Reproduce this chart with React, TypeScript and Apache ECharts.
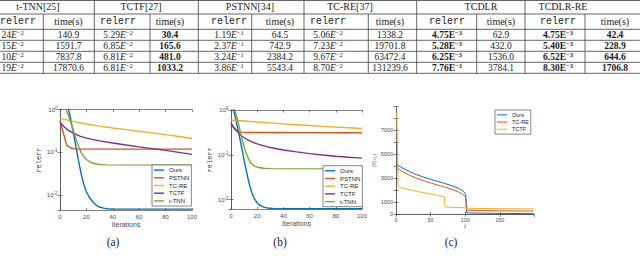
import React, { useEffect, useRef } from "react";
import * as echarts from "echarts";

// ---------------- Table data ----------------
const methodHeaders = ["t-TNN[25]", "TCTF[27]", "PSTNN[34]", "TC-RE[37]", "TCDLR", "TCDLR-RE"];
const subHeaderRelerr = "relerr";
const subHeaderTime = "time(s)";
const tTnnRelerr = ["24E-2", "15E-2", "10E-2", "19E-2"]; // left part cropped in the source
const tTnnTime = ["140.9", "1591.7", "7837.8", "17870.6"];
const tctfRelerr = ["5.29E-2", "6.85E-2", "6.81E-2", "6.81E-2"];
const tctfTime = ["30.4", "165.6", "481.0", "1033.2"];
const pstnnRelerr = ["1.19E-1", "2.37E-1", "3.24E-1", "3.86E-1"];
const pstnnTime = ["64.5", "742.9", "2384.2", "5543.4"];
const tcreRelerr = ["5.06E-2", "7.23E-2", "9.67E-2", "8.70E-2"];
const tcreTime = ["1338.2", "19701.8", "63472.4", "131239.6"];
const tcdlrRelerr = ["4.75E-3", "5.28E-3", "6.25E-3", "7.76E-3"];
const tcdlrTime = ["62.9", "432.0", "1536.0", "3784.1"];
const tcdlrReRelerr = ["4.75E-3", "5.40E-3", "6.52E-3", "8.30E-3"];
const tcdlrReTime = ["42.4", "228.9", "644.6", "1706.8"];

// ---------------- Chart (a) data: [iteration, relerr] ----------------
const aOurs = [[0, 1.6], [5, 1.3], [6.5, 1.0], [8, 0.62], [10, 0.3], [12, 0.14], [14, 0.065], [16, 0.032], [18, 0.018], [20, 0.012], [22, 0.0092], [24, 0.0075], [26, 0.0064], [28, 0.0057], [30, 0.0053], [33, 0.005], [36, 0.00485], [40, 0.00478], [50, 0.00475], [100, 0.00475]];
const aPSTNN = [[0, 0.55], [5, 0.15], [6, 0.14], [8, 0.128], [10, 0.122], [12, 0.12], [100, 0.119]];
const aTCRE = [[0, 0.62], [10, 0.53], [20, 0.46], [30, 0.41], [40, 0.37], [50, 0.34], [60, 0.31], [70, 0.285], [80, 0.26], [90, 0.235], [100, 0.21]];
const aTCTF = [[0, 0.5], [3, 0.4], [6, 0.33], [10, 0.28], [15, 0.24], [20, 0.215], [30, 0.185], [40, 0.165], [50, 0.148], [60, 0.134], [70, 0.122], [80, 0.111], [90, 0.1], [100, 0.09]];
const aTTNN = [[0, 1.6], [3, 1.2], [4.5, 1.0], [6, 0.78], [8, 0.52], [10, 0.33], [12, 0.21], [14, 0.14], [16, 0.1], [18, 0.08], [20, 0.068], [23, 0.059], [26, 0.055], [30, 0.052], [35, 0.051], [100, 0.0505]];

// ---------------- Chart (b) data ----------------
const bOurs = [[0, 1.5], [1, 1.2], [2, 1.0], [4, 0.55], [6, 0.3], [8, 0.15], [10, 0.075], [12, 0.04], [14, 0.022], [16, 0.014], [18, 0.0102], [20, 0.0085], [22, 0.0075], [25, 0.0068], [28, 0.0065], [32, 0.0063], [40, 0.00626], [100, 0.00625]];
const bPSTNN = [[0, 0.5], [2, 0.4], [4, 0.35], [6, 0.33], [8, 0.32], [12, 0.315], [100, 0.31]];
const bTCRE = [[0, 0.6], [10, 0.57], [20, 0.54], [30, 0.515], [40, 0.49], [50, 0.47], [60, 0.45], [70, 0.43], [80, 0.415], [90, 0.4], [100, 0.385]];
const bTCTF = [[0, 0.5], [3, 0.38], [6, 0.3], [10, 0.24], [15, 0.2], [20, 0.175], [30, 0.145], [40, 0.128], [50, 0.116], [60, 0.106], [70, 0.099], [80, 0.093], [90, 0.088], [100, 0.084]];
const bTTNN = [[0, 1.5], [2, 1.2], [3, 1.0], [5, 0.6], [7, 0.34], [9, 0.19], [11, 0.12], [13, 0.085], [15, 0.066], [18, 0.056], [21, 0.052], [25, 0.05], [30, 0.049], [100, 0.0485]];

// ---------------- Chart (c) data: [i, |S|] ----------------
const cOurs = [[1, 4250], [3, 4100], [10, 3850], [20, 3550], [30, 3300], [40, 3100], [50, 2920], [60, 2750], [70, 2580], [80, 2400], [90, 2180], [95, 2020], [98, 1880], [100, 1750], [101, 1500], [102, 120], [120, 95], [150, 75], [199, 55]];
const cTCRE = [[1, 3950], [3, 3800], [10, 3550], [20, 3250], [30, 3000], [40, 2800], [50, 2620], [60, 2450], [70, 2280], [80, 2100], [90, 1880], [95, 1730], [98, 1600], [100, 1480], [101, 1250], [102, 340], [120, 310], [150, 290], [199, 270]];
const cTCTF = [[1, 8500], [2, 6000], [3, 2400], [5, 2250], [20, 2050], [40, 1800], [60, 1580], [69, 1480], [70, 1420], [71, 620], [80, 580], [100, 540], [101, 500], [150, 470], [199, 450]];

const legendAB = ["Ours", "PSTNN", "TC-RE", "TCTF", "t-TNN"];
const legendC = ["Ours", "TC-RE", "TCTF"];
const iterTicks = { min: 0, max: 100, interval: 20 };
const cXRange = { min: 0, max: 199.5, interval: 50 };
const cYRange = { min: 0, max: 9000, interval: 1000 };
const cYTickLabels = [0, 1000, 3000, 5000, 7000];
const cXName = "i";
const captions = ["(a)", "(b)", "(c)"];

// ---------------- styling ----------------
const C = { blue: "#0072BD", orange: "#D95319", yellow: "#EDB120", purple: "#7E2F8E", green: "#77AC30" };
const SANS = '"Liberation Sans", Arial, sans-serif';
const SERIF = '"Liberation Serif", "Times New Roman", serif';
const MONO = '"Liberation Mono", "DejaVu Sans Mono", monospace';
const AX = "#4d4d4d";
const TXT = "#1a1a1a";

function buildTable(): any[] {
  const els: any[] = [];
  const cols = [
    { rel: tTnnRelerr, time: tTnnTime, relBold: false, timeBold: false, relX: 11, timeX: 68.5, headX: 38, cropped: true },
    { rel: tctfRelerr, time: tctfTime, relBold: false, timeBold: true, relX: 118, timeX: 170, headX: 141 },
    { rel: pstnnRelerr, time: pstnnTime, relBold: false, timeBold: false, relX: 229, timeX: 280, headX: 250 },
    { rel: tcreRelerr, time: tcreTime, relBold: false, timeBold: false, relX: 328, timeX: 390, headX: 350 },
    { rel: tcdlrRelerr, time: tcdlrTime, relBold: true, timeBold: false, relX: 447, timeX: 501, headX: 481 },
    { rel: tcdlrReRelerr, time: tcdlrReTime, relBold: true, timeBold: true, relX: 558, timeX: 615, headX: 563 },
  ];
  const hLines = [0.5, 14, 29.3, 40.3, 51.3, 62.3, 73.3];
  const groupV = [94.3, 198.3, 304, 416.7, 525];
  const innerV = [43.3, 150, 251.7, 368.3, 476.7, 585];
  const rowY = [35, 46, 57, 68];
  hLines.forEach((y) =>
    els.push({ type: "line", silent: true, shape: { x1: 0, y1: y, x2: 640, y2: y }, style: { stroke: "#555", lineWidth: 0.9 } })
  );
  groupV.forEach((x) =>
    els.push({ type: "line", silent: true, shape: { x1: x, y1: 0, x2: x, y2: 73.3 }, style: { stroke: "#555", lineWidth: 0.9 } })
  );
  innerV.forEach((x) =>
    els.push({ type: "line", silent: true, shape: { x1: x, y1: 14, x2: x, y2: 73.3 }, style: { stroke: "#555", lineWidth: 0.9 } })
  );
  const rich = {
    m: { fontFamily: SERIF, fontSize: 9.5, lineHeight: 13, fill: TXT },
    e: { fontFamily: SERIF, fontSize: 9.5, fontStyle: "italic", lineHeight: 13, fill: TXT },
    s: { fontFamily: SERIF, fontSize: 6.5, verticalAlign: "top", fill: TXT },
    bm: { fontFamily: SERIF, fontSize: 9.5, fontWeight: "bold", lineHeight: 13, fill: TXT },
    bs: { fontFamily: SERIF, fontSize: 6.5, fontWeight: "bold", verticalAlign: "top", fill: TXT },
  };
  const relText = (s: string, bold: boolean) => {
    const [m, e] = s.split("E");
    const ex = e.replace("-", "\u2212");
    return bold ? `{bm|${m}E}{bs|${ex}}` : `{m|${m}}{e|E}{s|${ex}}`;
  };
  cols.forEach((c: any, ci) => {
    els.push({
      type: "text", silent: true, x: c.headX, y: 6,
      style: { text: methodHeaders[ci], font: `10px ${SERIF}`, fill: TXT, textAlign: "center", textVerticalAlign: "middle" },
    });
    els.push({
      type: "text", silent: true, x: c.cropped ? 0 : c.relX, y: 21.7,
      style: { text: subHeaderRelerr, font: `10px ${MONO}`, fill: TXT, textAlign: c.cropped ? "left" : "center", textVerticalAlign: "middle" },
    });
    els.push({
      type: "text", silent: true, x: c.timeX, y: 21.7,
      style: { text: subHeaderTime, font: `10px ${SERIF}`, fill: TXT, textAlign: "center", textVerticalAlign: "middle" },
    });
    rowY.forEach((y, ri) => {
      els.push({
        type: "text", silent: true, x: c.cropped ? 1.5 : c.relX, y,
        style: { text: relText(c.rel[ri], c.relBold), rich, textAlign: c.cropped ? "left" : "center", textVerticalAlign: "middle" },
      });
      els.push({
        type: "text", silent: true, x: c.timeX, y,
        style: {
          text: c.time[ri], font: `${c.timeBold ? "bold " : ""}9.5px ${SERIF}`, fill: TXT,
          textAlign: "center", textVerticalAlign: "middle",
        },
      });
    });
  });
  const capX = [113, 280, 451];
  captions.forEach((t, i) =>
    els.push({
      type: "text", silent: true, x: capX[i], y: 242,
      style: { text: t, font: `11.5px ${SERIF}`, fill: TXT, textAlign: "center", textVerticalAlign: "middle" },
    })
  );
  els.push({
    type: "text", silent: true, x: 465, y: 226,
    style: { text: cXName, font: `italic 7px ${SERIF}`, fill: AX, textAlign: "center", textVerticalAlign: "middle" },
  });
  return els;
}

const axLine = { lineStyle: { color: AX, width: 0.7 } };
const axTick = { inside: true, length: 2.5, lineStyle: { color: AX, width: 0.7 } };

function iterX(grid: number, top: boolean): any {
  return {
    gridIndex: grid, type: "value", position: top ? "top" : "bottom", ...iterTicks,
    axisLine: axLine, axisTick: axTick, splitLine: { show: false },
    axisLabel: top ? { show: false } : { fontSize: 6, color: AX, fontFamily: SANS, margin: 3 },
    name: top ? "" : "Iterations", nameLocation: "middle", nameGap: 10,
    nameTextStyle: { fontSize: 7, color: AX, fontFamily: SANS },
  };
}
function logY(grid: number, min: number, right: boolean): any {
  return {
    gridIndex: grid, type: "log", logBase: 10, min, max: 1, position: right ? "right" : "left",
    axisLine: axLine, axisTick: axTick, splitLine: { show: false },
    axisLabel: right
      ? { show: false }
      : {
          showMinLabel: false, fontSize: 6, color: AX, fontFamily: SANS, margin: 2.5,
          formatter: (v: number) => {
            const e = Math.round(Math.log10(v));
            return `10{s|${e}}`;
          },
          rich: { s: { fontSize: 4.5, color: AX, fontFamily: SANS, verticalAlign: "top", padding: [0, 0, 3, 0] } },
        },
    name: right ? "" : "relerr", nameLocation: "middle", nameGap: 17, nameRotate: 90,
    nameTextStyle: { fontSize: 7, color: "#333", fontFamily: MONO },
  };
}
function lineSeries(name: string, data: number[][], color: string, xi: number, yi: number, w: number): any {
  return {
    type: "line", name, data, xAxisIndex: xi, yAxisIndex: yi, showSymbol: false, symbol: "none",
    lineStyle: { color, width: w }, itemStyle: { color }, clip: true, z: 2,
  };
}
function legendBox(data: any[], left: number, top: number, fs: number, lw: number): any {
  return {
    data, left, top, orient: "vertical", itemGap: 0.5, itemWidth: 10, itemHeight: lw, icon: "rect",
    selectedMode: false,
    textStyle: { fontSize: fs, color: TXT, fontFamily: SANS, lineHeight: fs + 1.2 },
    padding: [1.5, 2, 1.5, 2], backgroundColor: "#fff", borderColor: "#333", borderWidth: 0.6, borderRadius: 0,
  };
}

function buildOption(): any {
  return {
    animation: false,
    backgroundColor: "#fff",
    grid: [
      { left: 60, top: 109.5, width: 132, height: 101 },
      { left: 231, top: 110, width: 131, height: 99.5 },
      { left: 396, top: 106.5, width: 138, height: 107.8 },
    ],
    xAxis: [
      iterX(0, false), iterX(0, true), iterX(1, false), iterX(1, true),
      {
        gridIndex: 2, type: "value", ...cXRange, axisLine: axLine, axisTick: axTick, splitLine: { show: false },
        axisLabel: { fontSize: 5.5, color: AX, fontFamily: SANS, margin: 3, showMaxLabel: false },
      },
      {
        gridIndex: 2, type: "value", position: "top", ...cXRange, axisLine: axLine, axisTick: axTick,
        splitLine: { show: false }, axisLabel: { show: false },
      },
    ],
    yAxis: [
      logY(0, 0.0044, false), logY(0, 0.0044, true), logY(1, 0.006, false), logY(1, 0.006, true),
      {
        gridIndex: 2, type: "value", ...cYRange, axisLine: axLine, axisTick: axTick, splitLine: { show: false },
        axisLabel: {
          fontSize: 5.5, color: AX, fontFamily: SANS, margin: 3,
          formatter: (v: number) => (cYTickLabels.indexOf(v) >= 0 ? String(v) : ""),
        },
        name: "{a||S|}{b|i,i,1}", nameLocation: "middle", nameGap: 17, nameRotate: 90,
        nameTextStyle: {
          color: AX,
          rich: {
            a: { fontSize: 6.5, fontFamily: SERIF, fontStyle: "italic", color: AX },
            b: { fontSize: 4.5, fontFamily: SERIF, fontStyle: "italic", color: AX, verticalAlign: "bottom" },
          },
        },
      },
      {
        gridIndex: 2, type: "value", position: "right", ...cYRange, axisLine: axLine, axisTick: axTick,
        splitLine: { show: false }, axisLabel: { show: false },
      },
    ],
    legend: [
      legendBox(legendAB, 152, 165, 6, 1.4),
      legendBox(legendAB, 323, 165.7, 6, 1.4),
      legendBox(
        [
          { name: "Ours", itemStyle: { color: C.blue } },
          { name: "TC-RE", itemStyle: { color: C.orange } },
          { name: "TCTF", itemStyle: { color: C.yellow } },
        ].filter((d) => legendC.indexOf(d.name) >= 0),
        495, 110, 5.5, 1
      ),
    ],
    series: [
      lineSeries("Ours", aOurs, C.blue, 0, 0, 1.4),
      lineSeries("PSTNN", aPSTNN, C.orange, 0, 0, 1.4),
      lineSeries("TC-RE", aTCRE, C.yellow, 0, 0, 1.4),
      lineSeries("TCTF", aTCTF, C.purple, 0, 0, 1.4),
      lineSeries("t-TNN", aTTNN, C.green, 0, 0, 1.4),
      lineSeries("Ours", bOurs, C.blue, 2, 2, 1.4),
      lineSeries("PSTNN", bPSTNN, C.orange, 2, 2, 1.4),
      lineSeries("TC-RE", bTCRE, C.yellow, 2, 2, 1.4),
      lineSeries("TCTF", bTCTF, C.purple, 2, 2, 1.4),
      lineSeries("t-TNN", bTTNN, C.green, 2, 2, 1.4),
      lineSeries("Ours", cOurs, C.blue, 4, 4, 1),
      lineSeries("TC-RE", cTCRE, C.orange, 4, 4, 1),
      lineSeries("TCTF", cTCTF, C.yellow, 4, 4, 1),
    ],
    graphic: { elements: buildTable() },
  };
}

export default function App() {
  const ref = useRef<HTMLDivElement>(null);
  useEffect(() => {
    if (!ref.current) return;
    const chart = echarts.init(ref.current, undefined, { renderer: "svg" });
    chart.setOption(buildOption());
    return () => chart.dispose();
  }, []);
  return (
    <div
      ref={ref}
      style={{ position: "fixed", left: 0, top: 0, width: 640, height: 265, background: "#fff" }}
    />
  );
}
